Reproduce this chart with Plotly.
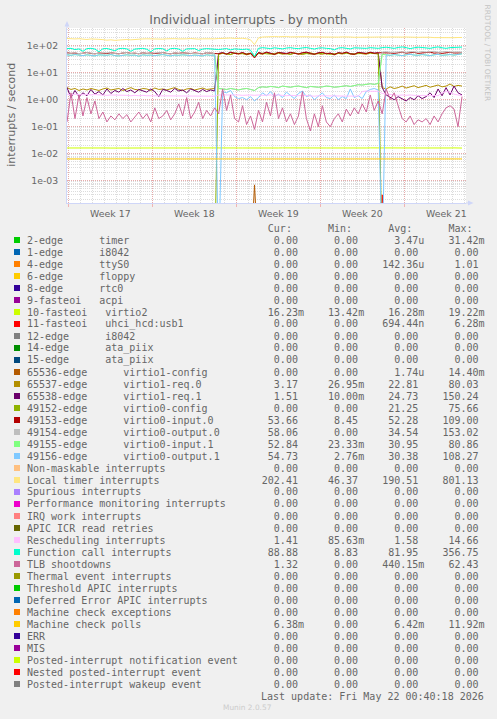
import pandas as pd
import plotly.graph_objects as go

# ---------------- canvas geometry (pixels) ----------------
W, H = 497, 719
ML, MR, MT, MB = 67, 31, 28, 516
PW, PH = W - ML - MR, H - MT - MB


def px_x(px):
    return (px - ML) / PW


def px_y(py):
    return (H - MB - py) / PH


# ---------------- time axis ----------------
t_start = pd.Timestamp("2026-04-19 20:00")
times = pd.date_range(t_start, periods=100, freq="8h")
t_end = t_start + pd.Timedelta(hours=800)

weeks = [17, 18, 19, 20, 21]
week_labels = ["Week 17", "Week 18", "Week 19", "Week 20", "Week 21"]

y_tick_vals = [1e-3, 1e-2, 1e-1, 1e0, 1e1, 1e2]
y_tick_text = ["1e-03", "1e-02", "1e-01", "1e+00", "1e+01", "1e+02"]

# ---------------- series values (interrupts / second) ----------------
virtio2_irq = [
    0.0163, 0.0164, 0.0163, 0.0162, 0.0163, 0.0163, 0.0164, 0.0163, 0.0162, 0.0163,
    0.0163, 0.0162, 0.0163, 0.0164, 0.0163, 0.0163, 0.0162, 0.0163, 0.0164, 0.0163,
    0.0164, 0.0163, 0.0163, 0.0162, 0.0163, 0.0164, 0.0163, 0.0163, 0.0162, 0.0163,
    0.0163, 0.0163, 0.0164, 0.0163, 0.0162, 0.0163, 0.0163, 0.0164, 0.0163, 0.0163,
    0.0162, 0.0163, 0.0164, 0.0163, 0.0163, 0.0162, 0.0163, 0.0164, 0.0163, 0.0163,
    0.0163, 0.0162, 0.0163, 0.0163, 0.0164, 0.0163, 0.0162, 0.0163, 0.0163, 0.0164,
    0.0163, 0.0163, 0.0162, 0.0163, 0.0164, 0.0163, 0.0163, 0.0162, 0.0163, 0.0163,
    0.0164, 0.0163, 0.0163, 0.0162, 0.0163, 0.0163, 0.0164, 0.0163, 0.0162, 0.0163,
    0.0163, 0.0164, 0.0163, 0.0163, 0.0162, 0.0163, 0.0164, 0.0163, 0.0163, 0.0162,
    0.0163, 0.0163, 0.0164, 0.0163, 0.0162, 0.0163, 0.0163, 0.0164, 0.0163, 0.0162,
]
uhci_irq = [
    0, 0, 0, 0, 0, 0, 0, 0, 0, 0,
    0, 0, 0, 0, 0, 0, 0, 0, 0, 0,
    0, 0, 0, 0, 0, 0, 0, 0, 0, 0,
    0, 0, 0, 0, 0, 0, 0, 0, 0, 0,
    0, 0, 0, 0, 0, 0, 0, 0, 0, 0,
    0, 0, 0, 0, 0, 0, 0, 0, 0, 0,
    0, 0, 0, 0, 0, 0, 0, 0, 0, 0,
    0, 0, 0, 0, 0, 0, 0, 0, 0, 0.0003,
    0, 0, 0, 0, 0, 0, 0, 0, 0, 0,
    0, 0, 0, 0, 0, 0, 0, 0, 0, 0,
]
virtio1_config = [
    0, 0, 0, 0, 0, 0, 0, 0, 0, 0,
    0, 0, 0, 0, 0, 0, 0, 0, 0, 0,
    0, 0, 0, 0, 0, 0, 0, 0, 0, 0,
    0, 0, 0, 0, 0, 0, 0, 0, 0, 0,
    0, 0, 0, 0, 0, 0, 0, 0.0007, 0, 0,
    0, 0, 0, 0, 0, 0, 0, 0, 0, 0,
    0, 0, 0, 0, 0, 0, 0, 0, 0, 0,
    0, 0, 0, 0, 0, 0, 0, 0, 0, 0,
    0, 0, 0, 0, 0, 0, 0, 0, 0, 0,
    0, 0, 0, 0, 0, 0, 0, 0, 0, 0,
]
virtio1_req0 = [
    2.8, 2.4, 2.6, 2.2, 2.5, 2.3, 2.6, 2.4, 2.2, 2.5,
    2.7, 2.3, 2.4, 2.6, 2.2, 2.5, 2.8, 2.4, 2.3, 2.6,
    2.5, 2.2, 2.7, 2.4, 2.5, 2.3, 2.6, 2.8, 2.4, 2.2,
    2.5, 2.6, 2.3, 2.5, 2.7, 2.4, 2.5, 2.6, 48, 52,
    50, 47, 53, 49, 51, 46, 50, 38, 52, 48,
    54, 50, 47, 52, 49, 51, 48, 53, 50, 47,
    52, 55, 49, 51, 48, 53, 50, 46, 52, 49,
    54, 50, 47, 53, 51, 48, 55, 52, 50, 2.8,
    2.5, 3.0, 2.6, 2.8, 3.2, 2.7, 2.9, 3.3, 2.8, 3.0,
    3.4, 2.9, 3.1, 3.5, 3.0, 3.2, 3.8, 3.1, 3.4, 3.2,
]
virtio1_req1 = [
    2.8, 1.2, 2.2, 1.3, 1.8, 1.4, 2.4, 1.6, 2.0, 1.5,
    2.5, 1.7, 2.2, 1.9, 2.6, 2.0, 2.3, 1.8, 2.4, 2.1,
    1.9, 2.5, 2.0, 1.3, 2.4, 2.2, 1.9, 2.6, 2.1, 2.3,
    1.8, 2.5, 2.2, 1.9, 2.4, 2.0, 2.3, 2.1, 52, 55,
    50, 56, 53, 51, 55, 49, 53, 40, 56, 51,
    57, 53, 49, 56, 54, 52, 55, 53, 50, 54,
    57, 52, 49, 55, 56, 51, 53, 48, 55, 52,
    57, 51, 49, 56, 54, 52, 57, 53, 55, 2.8,
    1.5, 1.2, 1.0, 1.3, 1.1, 0.9, 1.2, 1.0, 1.4, 1.1,
    1.3, 1.8, 1.2, 2.5, 1.4, 2.8, 1.5, 3.2, 1.8, 1.5,
]
virtio0_config = [
    0, 0, 0, 0, 0, 0, 0, 0, 0, 0,
    0, 0, 0, 0, 0, 0, 0, 0, 0, 0,
    0, 0, 0, 0, 0, 0, 0, 0, 0, 0,
    0, 0, 0, 0, 0, 0, 0, 0, 50, 52,
    50, 48, 53, 51, 49, 50, 52, 40, 51, 53,
    50, 49, 52, 54, 50, 51, 48, 53, 50, 52,
    51, 49, 50, 53, 52, 50, 48, 51, 50, 52,
    53, 49, 50, 51, 52, 50, 53, 51, 50, 0,
    0, 0, 0, 0, 0, 0, 0, 0, 0, 0,
    0, 0, 0, 0, 0, 0, 0, 0, 0, 0,
]
virtio0_input0 = [
    55, 52, 54, 50, 53, 56, 52, 50, 54, 53,
    51, 55, 52, 50, 54, 56, 52, 53, 50, 55,
    52, 54, 51, 53, 56, 52, 50, 54, 52, 55,
    53, 51, 54, 52, 50, 55, 53, 52, 50, 55,
    48, 58, 52, 50, 56, 48, 52, 35, 55, 50,
    58, 52, 48, 56, 54, 50, 57, 52, 49, 55,
    58, 51, 48, 54, 57, 50, 53, 47, 55, 52,
    58, 50, 48, 56, 53, 51, 57, 52, 55, 55,
    57, 54, 52, 56, 58, 53, 55, 57, 52, 54,
    56, 58, 53, 55, 52, 56, 57, 54, 55, 54,
]
virtio0_output0 = [
    54, 52, 55, 51, 52, 56, 53, 50, 53, 53,
    52, 55, 51, 50, 55, 56, 51, 53, 51, 55,
    52, 53, 51, 54, 56, 51, 50, 55, 52, 54,
    53, 52, 54, 51, 50, 56, 53, 51, 2.6, 2.5,
    2.4, 2.6, 2.5, 2.3, 2.5, 2.6, 2.4, 2.2, 2.8, 3.0,
    2.9, 3.1, 3.0, 2.8, 3.2, 3.0, 2.9, 3.1, 3.2, 3.0,
    2.8, 3.1, 3.0, 2.9, 3.0, 3.2, 3.1, 2.9, 3.0, 3.2,
    3.3, 3.1, 3.4, 3.6, 3.5, 3.8, 3.9, 3.7, 4.0, 58,
    60, 57, 58, 61, 59, 57, 60, 59, 57, 61,
    58, 60, 62, 57, 59, 61, 58, 60, 59, 58,
]
virtio0_input1 = [
    46, 44, 47, 45, 43, 46, 44, 42, 46, 45,
    44, 47, 43, 42, 45, 46, 44, 45, 41, 46,
    44, 45, 43, 44, 47, 44, 42, 45, 44, 46,
    45, 43, 45, 44, 42, 46, 44, 45, 2.6, 2.5,
    2.4, 2.6, 2.5, 2.3, 2.5, 2.6, 2.4, 2.2, 2.8, 3.0,
    2.9, 3.1, 3.0, 2.8, 3.2, 3.0, 2.9, 3.1, 3.2, 3.0,
    2.8, 3.1, 3.0, 2.9, 3.0, 3.2, 3.1, 2.9, 3.0, 3.2,
    3.3, 3.1, 3.4, 3.6, 3.5, 3.8, 3.9, 3.7, 4.0, 48,
    46, 44, 47, 45, 43, 46, 48, 45, 44, 47,
    45, 43, 46, 48, 44, 46, 47, 45, 48, 50,
]
virtio0_output1 = [
    46, 44, 47, 45, 43, 46, 44, 42, 46, 45,
    44, 47, 43, 42, 45, 46, 44, 45, 41, 46,
    44, 45, 43, 44, 47, 44, 42, 45, 44, 46,
    45, 43, 45, 44, 42, 46, 44, 45, 0, 2.0,
    1.8, 2.2, 1.3, 1.1, 1.2, 1.0, 1.3, 0.9, 1.2, 1.8,
    1.4, 2.0, 1.3, 1.6, 1.2, 1.9, 1.4, 1.1, 1.7, 2.1,
    1.3, 1.5, 1.0, 1.4, 1.8, 1.2, 1.1, 1.5, 1.0, 1.3,
    1.1, 2.5, 1.2, 1.4, 1.1, 2.0, 2.4, 2.6, 2.3, 0,
    46, 44, 47, 45, 43, 46, 48, 45, 44, 47,
    45, 43, 46, 48, 44, 46, 47, 45, 48, 50,
]
local_timer = [
    185, 180, 178, 182, 175, 170, 178, 180, 172, 168,
    160, 165, 158, 162, 168, 170, 165, 172, 175, 178,
    180, 176, 182, 178, 175, 180, 185, 182, 178, 176,
    180, 184, 178, 175, 180, 178, 176, 180, 185, 190,
    188, 192, 186, 190, 188, 180, 165, 110, 195, 210,
    215, 212, 218, 215, 220, 218, 212, 216, 220, 218,
    215, 212, 210, 215, 218, 214, 210, 212, 208, 212,
    215, 210, 205, 208, 212, 210, 206, 208, 210, 205,
    208, 210, 206, 204, 208, 210, 205, 200, 204, 206,
    210, 205, 200, 198, 202, 205, 200, 198, 202, 202,
]
rescheduling = [
    1.6, 1.5, 1.6, 1.55, 1.5, 1.6, 1.5, 1.55, 1.5, 1.5,
    1.45, 1.5, 1.5, 1.45, 1.5, 1.45, 1.4, 1.45, 1.4, 1.45,
    1.4, 1.4, 1.35, 1.4, 1.4, 1.35, 1.4, 1.4, 1.35, 1.4,
    1.35, 1.4, 1.35, 1.4, 1.35, 1.4, 1.4, 1.35, 1.5, 1.5,
    1.55, 1.5, 1.5, 1.5, 1.45, 1.5, 1.5, 1.45, 1.5, 1.45,
    1.5, 1.5, 1.45, 1.5, 1.45, 1.4, 1.45, 1.4, 1.4, 1.45,
    1.4, 1.4, 1.35, 1.4, 1.4, 1.35, 1.4, 1.35, 1.4, 1.35,
    1.4, 1.35, 1.4, 1.35, 2.0, 2.1, 2.05, 2.1, 2.05, 1.7,
    1.6, 1.5, 1.5, 1.45, 1.5, 1.45, 1.5, 1.45, 1.4, 1.45,
    1.4, 1.4, 1.45, 1.4, 1.8, 2.0, 1.9, 1.6, 1.5, 1.41,
]
function_call = [
    78, 80, 72, 76, 62, 78, 80, 75, 60, 77,
    79, 74, 65, 78, 80, 76, 62, 75, 78, 80,
    74, 60, 76, 79, 77, 64, 78, 80, 75, 62,
    76, 79, 78, 66, 75, 78, 76, 70, 72, 75,
    78, 70, 76, 74, 72, 75, 68, 40, 80, 85,
    82, 78, 84, 80, 76, 82, 85, 80, 78, 83,
    86, 80, 75, 82, 84, 80, 78, 70, 82, 85,
    80, 76, 84, 82, 78, 80, 85, 82, 80, 85,
    88, 84, 80, 86, 90, 85, 78, 84, 88, 86,
    82, 80, 86, 90, 84, 80, 85, 88, 86, 89,
]
tlb_shootdowns = [
    0.15, 1.8, 0.2, 1.5, 0.25, 1.2, 0.3, 0.9, 0.2, 0.35,
    0.15, 0.25, 0.18, 0.3, 0.2, 0.28, 0.15, 0.22, 0.35, 0.2,
    0.3, 0.15, 0.5, 0.2, 0.25, 0.4, 0.18, 0.3, 0.7, 0.25,
    1.2, 0.2, 0.35, 0.8, 0.2, 0.4, 0.25, 0.5, 0.3, 2.5,
    0.4, 1.5, 0.2, 0.15, 0.6, 0.12, 0.25, 0.08, 0.4, 0.15,
    0.8, 0.25, 1.8, 0.2, 0.5, 0.15, 0.3, 0.12, 0.25, 2.0,
    0.2, 0.07, 0.3, 0.1, 0.6, 0.15, 0.1, 0.2, 0.3, 0.15,
    0.45, 0.25, 0.5, 0.3, 0.7, 0.35, 1.5, 0.4, 0.9, 0.3,
    2.5, 1.0, 1.8, 0.6, 0.2, 0.15, 0.25, 0.12, 0.18, 0.15,
    0.2, 0.12, 0.25, 0.15, 0.3, 0.5, 0.6, 0.45, 0.1, 1.3,
]
mc_polls = [
    0.0064, 0.0064, 0.0065, 0.0064, 0.0064, 0.0063, 0.0064, 0.0064, 0.0065, 0.0064,
    0.0064, 0.0063, 0.0064, 0.0064, 0.0065, 0.0064, 0.0064, 0.0064, 0.0063, 0.0064,
    0.0065, 0.0064, 0.0064, 0.0063, 0.0064, 0.0064, 0.0065, 0.0064, 0.0064, 0.0064,
    0.0063, 0.0064, 0.0064, 0.0065, 0.0064, 0.0064, 0.0063, 0.0064, 0.0064, 0.0065,
    0.0064, 0.0064, 0.0063, 0.0064, 0.0065, 0.0064, 0.0066, 0.0062, 0.0064, 0.0064,
    0.0065, 0.0064, 0.0064, 0.0063, 0.0064, 0.0064, 0.0065, 0.0064, 0.0064, 0.0063,
    0.0064, 0.0065, 0.0064, 0.0064, 0.0063, 0.0064, 0.0064, 0.0065, 0.0064, 0.0064,
    0.0064, 0.0063, 0.0064, 0.0065, 0.0064, 0.0064, 0.0064, 0.0063, 0.0064, 0.0064,
    0.0065, 0.0064, 0.0064, 0.0063, 0.0064, 0.0064, 0.0065, 0.0064, 0.0064, 0.0064,
    0.0063, 0.0064, 0.0064, 0.0065, 0.0064, 0.0064, 0.0063, 0.0064, 0.0064, 0.0064,
]

# ---------------- legend table ----------------
legend_labels = [
    "2-edge      timer", "1-edge      i8042", "4-edge      ttyS0",
    "6-edge      floppy", "8-edge      rtc0", "9-fasteoi   acpi",
    "10-fasteoi   virtio2", "11-fasteoi   uhci_hcd:usb1", "12-edge      i8042",
    "14-edge      ata_piix", "15-edge      ata_piix",
    "65536-edge      virtio1-config", "65537-edge      virtio1-req.0",
    "65538-edge      virtio1-req.1", "49152-edge      virtio0-config",
    "49153-edge      virtio0-input.0", "49154-edge      virtio0-output.0",
    "49155-edge      virtio0-input.1", "49156-edge      virtio0-output.1",
    "Non-maskable interrupts", "Local timer interrupts", "Spurious interrupts",
    "Performance monitoring interrupts", "IRQ work interrupts",
    "APIC ICR read retries", "Rescheduling interrupts", "Function call interrupts",
    "TLB shootdowns", "Thermal event interrupts", "Threshold APIC interrupts",
    "Deferred Error APIC interrupts", "Machine check exceptions",
    "Machine check polls", "ERR", "MIS", "Posted-interrupt notification event",
    "Nested posted-interrupt event", "Posted-interrupt wakeup event",
]
legend_colors = [
    "#00CC00", "#0066B3", "#FF8000", "#FFCC00", "#330099", "#990099", "#CCFF00",
    "#FF0000", "#808080", "#008F00", "#00487D", "#B35A00", "#B38F00", "#6B006B",
    "#8FB300", "#B30000", "#BEBEBE", "#80FF80", "#80C9FF", "#FFC080", "#FFE680",
    "#AA80FF", "#EE00CC", "#FF8080", "#666600", "#FFBFFF", "#00FFCC", "#CC6699",
    "#999900", "#00CC00", "#0066B3", "#FF8000", "#FFCC00", "#330099", "#990099",
    "#CCFF00", "#FF0000", "#808080",
]
cur_vals = [
    "0.00", "0.00", "0.00", "0.00", "0.00", "0.00", "16.23m", "0.00", "0.00", "0.00",
    "0.00", "0.00", "3.17", "1.51", "0.00", "53.66", "58.06", "52.84", "54.73", "0.00",
    "202.41", "0.00", "0.00", "0.00", "0.00", "1.41", "88.88", "1.32", "0.00", "0.00",
    "0.00", "0.00", "6.38m", "0.00", "0.00", "0.00", "0.00", "0.00",
]
min_vals = [
    "0.00", "0.00", "0.00", "0.00", "0.00", "0.00", "13.42m", "0.00", "0.00", "0.00",
    "0.00", "0.00", "26.95m", "10.00m", "0.00", "8.45", "0.00", "23.33m", "2.76m", "0.00",
    "46.37", "0.00", "0.00", "0.00", "0.00", "85.63m", "8.83", "0.00", "0.00", "0.00",
    "0.00", "0.00", "0.00", "0.00", "0.00", "0.00", "0.00", "0.00",
]
avg_vals = [
    "3.47u", "0.00", "142.36u", "0.00", "0.00", "0.00", "16.28m", "694.44n", "0.00", "0.00",
    "0.00", "1.74u", "22.81", "24.73", "21.25", "52.28", "34.54", "30.95", "30.38", "0.00",
    "190.51", "0.00", "0.00", "0.00", "0.00", "1.58", "81.95", "440.15m", "0.00", "0.00",
    "0.00", "0.00", "6.42m", "0.00", "0.00", "0.00", "0.00", "0.00",
]
max_vals = [
    "31.42m", "0.00", "1.01", "0.00", "0.00", "0.00", "19.22m", "6.28m", "0.00", "0.00",
    "0.00", "14.40m", "80.03", "150.24", "75.66", "109.00", "153.02", "80.86", "108.27", "0.00",
    "801.13", "0.00", "0.00", "0.00", "0.00", "14.66", "356.75", "62.43", "0.00", "0.00",
    "0.00", "0.00", "11.92m", "0.00", "0.00", "0.00", "0.00", "0.00",
]
last_update = "Last update: Fri May 22 00:40:18 2026"

# ---------------- styling ----------------
FONT = "DejaVu Sans"
MONO = "DejaVu Sans Mono"
FG = "#666666"
AXIS = "#CFD6F8"
MGRID = "rgba(240,120,120,0.5)"
GRID = "rgba(140,140,140,0.3)"
FLOOR = 1e-6

plotted = [
    (legend_colors[6], virtio2_irq),
    (legend_colors[7], uhci_irq),
    (legend_colors[11], virtio1_config),
    (legend_colors[12], virtio1_req0),
    (legend_colors[13], virtio1_req1),
    (legend_colors[14], virtio0_config),
    (legend_colors[15], virtio0_input0),
    (legend_colors[16], virtio0_output0),
    (legend_colors[17], virtio0_input1),
    (legend_colors[18], virtio0_output1),
    (legend_colors[20], local_timer),
    (legend_colors[25], rescheduling),
    (legend_colors[26], function_call),
    (legend_colors[27], tlb_shootdowns),
    (legend_colors[32], mc_polls),
]

fig = go.Figure()
for color, vals in plotted:
    fig.add_trace(go.Scatter(
        x=times, y=[v if v > 0 else FLOOR for v in vals], mode="lines",
        line=dict(color=color, width=1), hoverinfo="skip", showlegend=False,
    ))

week_starts = [pd.Timestamp.fromisocalendar(2026, w, 1) for w in weeks]
week_mids = [ws + pd.Timedelta(hours=84) for ws in week_starts]

fig.update_layout(
    width=W, height=H,
    margin=dict(l=ML, r=MR, t=MT, b=MB, pad=0),
    paper_bgcolor="#F0F0F0", plot_bgcolor="#FFFFFF",
    showlegend=False, hovermode=False,
    title=dict(text="Individual interrupts - by month", x=0.5, xanchor="center",
               y=1 - 20 / H, yanchor="middle",
               font=dict(family=FONT, size=12.5, color=FG)),
    xaxis=dict(
        type="date", range=[t_start, t_end],
        tickmode="array", tickvals=week_starts, showticklabels=False,
        ticks="outside", ticklen=3, tickcolor=MGRID,
        showgrid=True, gridcolor=MGRID, griddash="1px,1px", gridwidth=1,
        minor=dict(dtick=86400000, tick0="2026-04-20", showgrid=True,
                   gridcolor=GRID, griddash="1px,1px", ticks=""),
        showline=True, linecolor=AXIS, linewidth=1, zeroline=False,
    ),
    yaxis=dict(
        type="log", range=[-3.826, 2.656],
        tickmode="array", tickvals=y_tick_vals, ticktext=y_tick_text,
        tickfont=dict(family=FONT, size=9.3, color=FG),
        ticks="", ticklabelstandoff=6,
        showgrid=True, gridcolor=MGRID, griddash="1px,1px", gridwidth=1,
        minor=dict(dtick="D1", showgrid=True, gridcolor=GRID,
                   griddash="1px,1px", ticks=""),
        showline=True, linecolor=AXIS, linewidth=1, zeroline=False,
    ),
)

ann = []
for wl, wm in zip(week_labels, week_mids):
    ann.append(dict(x=wm, xref="x", y=px_y(213), yref="paper", text=wl,
                    showarrow=False, xanchor="center", yanchor="middle",
                    font=dict(family=FONT, size=9.4, color=FG)))

ann.append(dict(x=px_x(10.7), y=px_y(115), xref="paper", yref="paper",
                text="interrupts / second", textangle=-90, showarrow=False,
                xanchor="center", yanchor="middle",
                font=dict(family=FONT, size=11, color=FG)))
ann.append(dict(x=px_x(487.5), y=px_y(53), xref="paper", yref="paper",
                text="RRDTOOL / TOBI OETIKER", textangle=90, showarrow=False,
                xanchor="center", yanchor="middle",
                font=dict(family=FONT, size=7.5, color="#C4C4C4")))


def nb(s):
    return s.replace(" ", "\u00a0")


def unit(v):
    return v if v[-1].isalpha() else v + " "


header = " " * 40 + "Cur:" + " " * 6 + "Min:" + " " * 6 + "Avg:" + " " * 6 + "Max:"
ann.append(dict(x=px_x(26), y=px_y(228), xref="paper", yref="paper", text=nb(header),
                showarrow=False, xanchor="left", yanchor="middle", borderpad=0,
                font=dict(family=MONO, size=10, color=FG)))

shapes = []
for i, lab in enumerate(legend_labels):
    row_y = 240 + 12 * i
    line = (lab.ljust(36) + unit(cur_vals[i]).rjust(10) + unit(min_vals[i]).rjust(10)
            + unit(avg_vals[i]).rjust(10) + unit(max_vals[i]).rjust(10))
    ann.append(dict(x=px_x(26), y=px_y(row_y), xref="paper", yref="paper",
                    text=nb(line), showarrow=False, xanchor="left", yanchor="middle",
                    borderpad=0, font=dict(family=MONO, size=10, color=FG)))
    shapes.append(dict(type="rect", xref="paper", yref="paper",
                       x0=px_x(14), x1=px_x(20), y0=px_y(row_y + 3), y1=px_y(row_y - 3),
                       fillcolor=legend_colors[i], line=dict(width=0)))

ann.append(dict(x=px_x(26 + 6 * 39), y=px_y(696), xref="paper", yref="paper",
                text=nb(last_update), showarrow=False, xanchor="left", yanchor="middle",
                borderpad=0, font=dict(family=MONO, size=10, color=FG)))
ann.append(dict(x=px_x(247), y=px_y(707.5), xref="paper", yref="paper",
                text="Munin 2.0.57", showarrow=False, xanchor="center", yanchor="middle",
                font=dict(family=FONT, size=7.4, color="#CCCCCC")))

# axis arrows
shapes.append(dict(type="path", xref="paper", yref="paper",
                   path=f"M {px_x(64.5)},{px_y(26.5)} L {px_x(69.5)},{px_y(26.5)} L {px_x(67)},{px_y(21)} Z",
                   fillcolor=AXIS, line=dict(width=0)))
shapes.append(dict(type="line", xref="paper", yref="paper",
                   x0=px_x(67), x1=px_x(67), y0=px_y(28), y1=px_y(26),
                   line=dict(color=AXIS, width=1)))
shapes.append(dict(type="path", xref="paper", yref="paper",
                   path=f"M {px_x(468)},{px_y(200.5)} L {px_x(468)},{px_y(205.5)} L {px_x(473.5)},{px_y(203)} Z",
                   fillcolor=AXIS, line=dict(width=0)))
shapes.append(dict(type="line", xref="paper", yref="paper",
                   x0=px_x(466), x1=px_x(468), y0=px_y(203), y1=px_y(203),
                   line=dict(color=AXIS, width=1)))

fig.update_layout(annotations=ann, shapes=shapes)

fig.write_html("out.html", config={"displayModeBar": False, "staticPlot": True},
               post_script="document.body.style.margin='0';")
